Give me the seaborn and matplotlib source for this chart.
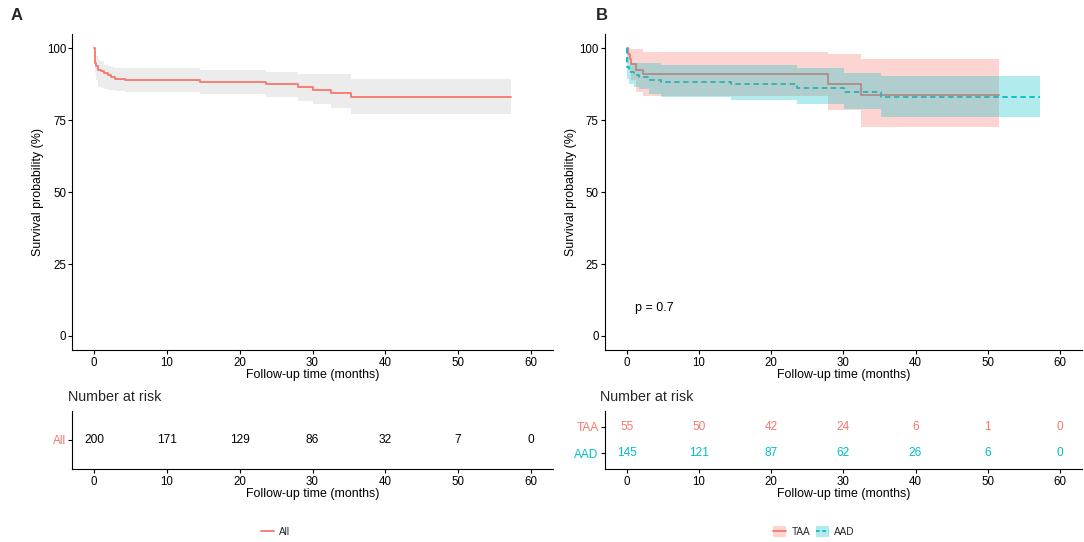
import matplotlib
matplotlib.use("Agg")
import matplotlib.pyplot as plt
import seaborn as sns
import pandas as pd
from matplotlib.patches import Patch
from matplotlib.lines import Line2D

RED = "#F8766D"
CYAN = "#00BFC4"

# ---------------- Data ----------------
# Panel A: all patients
all_time  = [0, 0.05, 0.25, 0.5, 1.0, 1.4, 1.9, 2.3, 2.8, 4.2, 14.5, 23.6, 28.0, 30.1, 32.6, 35.3, 57.3]
all_surv  = [100, 95.0, 93.8, 92.6, 92.1, 91.4, 90.6, 90.0, 89.5, 88.9, 88.3, 87.7, 86.6, 85.6, 84.6, 83.0, 83.0]
all_upper = [100, 98.5, 97.5, 96.1, 95.5, 94.1, 93.8, 93.5, 93.2, 93.2, 92.6, 91.9, 91.2, 91.2, 91.2, 89.5, 89.5]
all_lower = [100, 91.5, 89.0, 86.6, 86.2, 85.9, 85.6, 85.4, 85.1, 84.8, 84.3, 83.1, 81.7, 80.5, 79.1, 77.3, 77.3]

# Panel B: TAA
taa_time  = [0, 0.2, 0.4, 0.55, 1.34, 2.2, 27.9, 32.5, 51.6]
taa_surv  = [100, 98.2, 96.4, 94.7, 92.6, 91.0, 87.7, 83.8, 83.8]
taa_upper = [100, 100, 100, 99.9, 99.9, 98.7, 97.9, 96.2, 96.2]
taa_lower = [100, 94.8, 91.6, 88.9, 85.0, 83.6, 78.5, 72.7, 72.7]

# Panel B: AAD
aad_time  = [0, 0.03, 0.09, 0.32, 1.0, 1.7, 3.1, 4.7, 14.4, 23.6, 30.1, 35.2, 57.3]
aad_surv  = [100, 97.0, 93.5, 91.8, 90.6, 90.0, 88.9, 88.3, 87.5, 86.3, 84.8, 83.0, 83.0]
aad_upper = [100, 99.8, 97.8, 95.0, 95.0, 95.0, 95.0, 94.1, 94.1, 93.3, 91.4, 90.4, 90.4]
aad_lower = [100, 94.2, 89.5, 87.7, 86.6, 85.8, 84.3, 83.1, 82.2, 80.8, 78.8, 76.1, 76.1]

# Risk tables
risk_times = [0, 10, 20, 30, 40, 50, 60]
risk_all = [200, 171, 129, 86, 32, 7, 0]
risk_taa = [55, 50, 42, 24, 6, 1, 0]
risk_aad = [145, 121, 87, 62, 26, 6, 0]

x_ticks = [0, 10, 20, 30, 40, 50, 60]
y_ticks = [0, 25, 50, 75, 100]
p_text = "p = 0.7"

# ---------------- Style ----------------
sns.set_theme(style="ticks")
plt.rcParams['font.family'] = ['Liberation Sans', 'DejaVu Sans']
plt.rcParams['axes.linewidth'] = 0.8
plt.rcParams['xtick.major.width'] = 0.8
plt.rcParams['ytick.major.width'] = 0.8

W, H = 1084, 542
fig = plt.figure(figsize=(W / 100, H / 100), dpi=100)


def ax_at(l, t, r, b):
    return fig.add_axes([l / W, 1 - b / H, (r - l) / W, (b - t) / H])


def style_axis(ax):
    for s in ["top", "right"]:
        ax.spines[s].set_visible(False)
    for s in ["left", "bottom"]:
        ax.spines[s].set_color("black")
    ax.tick_params(axis="both", colors="black", labelsize=8.3, length=3, pad=1.5, width=0.8)
    ax.set_xlim(-3, 63)
    ax.set_xticks(x_ticks)
    ax.set_xlabel("Follow-up time (months)", fontsize=8.9, labelpad=0.2, color="black")


axA = ax_at(72.3, 34, 552.7, 350.3)
tabA = ax_at(72.3, 410.7, 552.7, 469.3)
axB = ax_at(605, 34, 1081.6, 350.3)
tabB = ax_at(605, 410.7, 1081.6, 469.3)

# ---- Panel A curve ----
dfA = pd.DataFrame({"time": all_time, "surv": all_surv})
axA.fill_between(all_time, all_lower, all_upper, step="post", color="gray", alpha=0.15, lw=0, zorder=1)
sns.lineplot(data=dfA, x="time", y="surv", ax=axA, color=RED, lw=1.3,
             drawstyle="steps-post", estimator=None, legend=False, zorder=3)

# ---- Panel B curves ----
dfT = pd.DataFrame({"time": taa_time, "surv": taa_surv})
dfD = pd.DataFrame({"time": aad_time, "surv": aad_surv})
sns.lineplot(data=dfT, x="time", y="surv", ax=axB, color=RED, lw=1.3,
             drawstyle="steps-post", estimator=None, legend=False, zorder=1)
sns.lineplot(data=dfD, x="time", y="surv", ax=axB, color=CYAN, lw=1.3,
             drawstyle="steps-post", estimator=None, legend=False, zorder=1,
             linestyle=(0, (3, 2)))
axB.fill_between(taa_time, taa_lower, taa_upper, step="post", color=RED, alpha=0.3, lw=0, zorder=2)
axB.fill_between(aad_time, aad_lower, aad_upper, step="post", color=CYAN, alpha=0.3, lw=0, zorder=2)
axB.text(1.15, 9.6, p_text, ha="left", va="center", fontsize=9, color="black")

for ax in (axA, axB):
    style_axis(ax)
    ax.set_ylim(-5, 105)
    ax.set_yticks(y_ticks)
    ax.set_ylabel("Survival probability (%)", fontsize=8.9, labelpad=2, color="black")

# ---- Risk tables ----
for ax in (tabA, tabB):
    style_axis(ax)

tabA.set_ylim(0.4, 1.6)
tabA.set_yticks([1])
tabA.set_yticklabels(["All"])
tabA.get_yticklabels()[0].set_color(RED)
for t, n in zip(risk_times, risk_all):
    tabA.text(t, 1, str(n), ha="center", va="center", fontsize=8.6, color="black")

tabB.set_ylim(0.4, 2.6)
tabB.set_yticks([1, 2])
tabB.set_yticklabels(["AAD", "TAA"])
tabB.get_yticklabels()[0].set_color(CYAN)
tabB.get_yticklabels()[1].set_color(RED)
for t, n in zip(risk_times, risk_taa):
    tabB.text(t, 2, str(n), ha="center", va="center", fontsize=8.6, color=RED)
for t, n in zip(risk_times, risk_aad):
    tabB.text(t, 1, str(n), ha="center", va="center", fontsize=8.6, color=CYAN)
for ax in (tabA, tabB):
    ax.tick_params(axis="y", labelsize=8.6)
    ax.set_ylabel("")

fig.text(67.7 / W, 1 - 397 / H, "Number at risk", fontsize=10.3, va="center", ha="left")
fig.text(600.5 / W, 1 - 397 / H, "Number at risk", fontsize=10.3, va="center", ha="left")

# ---- Panel letters ----
fig.text(11 / W, 1 - 15.5 / H, "A", fontsize=12, weight="bold", va="center", ha="left")
fig.text(596 / W, 1 - 15.5 / H, "B", fontsize=12, weight="bold", va="center", ha="left")

# ---- Legends ----
fig.legend(handles=[Line2D([], [], color=RED, lw=1.3)], labels=["All"],
           loc="center", bbox_to_anchor=(276 / W, 1 - 531.7 / H), frameon=False,
           handlelength=1.3, handletextpad=0.5, fontsize=7.2)
hT = (Patch(facecolor=RED, alpha=0.3, lw=0), Line2D([], [], color=RED, lw=1.3))
hD = (Patch(facecolor=CYAN, alpha=0.3, lw=0), Line2D([], [], color=CYAN, lw=1.3, linestyle=(0, (2, 1.5))))
fig.legend(handles=[hT, hD], labels=["TAA", "AAD"], ncol=2,
           loc="center", bbox_to_anchor=(814 / W, 1 - 531.7 / H), frameon=False,
           handlelength=1.3, handleheight=1.2, handletextpad=0.5, columnspacing=0.6, fontsize=7.2)

fig.savefig("out.png", dpi=100)
